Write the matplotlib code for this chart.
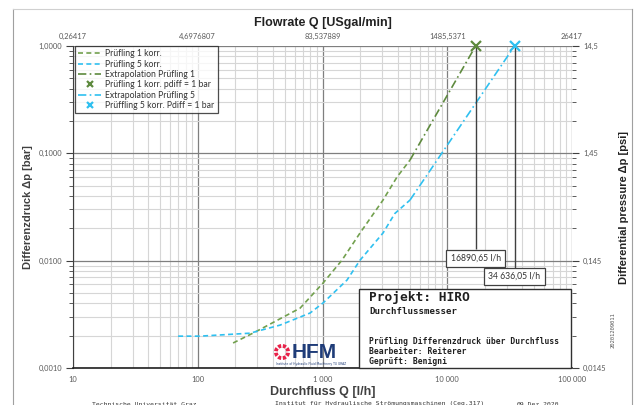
import numpy as np
import matplotlib
matplotlib.use("Agg")
import matplotlib.pyplot as plt
from matplotlib.patches import Rectangle, Wedge
from matplotlib.transforms import IdentityTransform
from matplotlib.ticker import FixedLocator, NullFormatter

q_p1 = [192, 288, 519, 661, 1009, 1432, 1999, 3055, 3955, 5030]
dp_p1 = [0.00171, 0.00216, 0.00311, 0.00361, 0.00618, 0.0101, 0.0181, 0.0367, 0.0601, 0.0866]
q_p5 = [69.6, 104, 262, 457, 794, 1009, 1571, 1999, 3055, 3800, 5030]
dp_p5 = [0.00198, 0.00198, 0.00211, 0.00251, 0.00325, 0.00403, 0.00659, 0.0101, 0.0181, 0.0275, 0.0367]
# Extrapolations to pdiff = 1 bar
q_ext1 = [5030, 16890.65]
dp_ext1 = [0.0866, 1.0]
q_ext5 = [5030, 34636.05]
dp_ext5 = [0.0367, 1.0]
q_1bar = [16890.65, 34636.05]
q_1bar_labels = ["16890,65 l/h", "34 636,05 l/h"]

x_ticks = [10, 100, 1000, 10000, 100000]
x_labels = ["10", "100", "1 000", "10 000", "100 000"]
top_labels = ["0,26417", "4,6976807", "83,537889", "1485,5371", "26417"]
y_ticks = [0.001, 0.01, 0.1, 1.0]
y_labels = ["0,0010", "0,0100", "0,1000", "1,0000"]
psi_labels = ["0,0145", "0,145", "1,45", "14,5"]

green = "#72A04E"
green_dk = "#5E8A3E"
blue = "#2FC0F0"
tick_col = "#595959"
tick_font = "Lato"
tick_size = 5.4
mono = "DejaVu Sans Mono"
W, H = 636, 405

fig = plt.figure(figsize=(W / 100, H / 100), dpi=100)
ax = fig.add_axes((73 / W, 1 - 368 / H, 499 / W, 322 / H))
ax.set_xscale("log")
ax.set_yscale("log")
ax.set_xlim(10, 100000)
ax.set_ylim(0.001, 1.0)

# grid
ax.grid(which="minor", color="#D6D6D6", lw=0.8)
ax.grid(which="major", color="#7F7F7F", lw=0.9)
ax.set_axisbelow(True)

ax.plot(q_p1, dp_p1, ls=(0, (3, 2)), color=green, lw=1.2, label="Prüfling 1 korr.")
ax.plot(q_p5, dp_p5, ls=(0, (3, 2)), color=blue, lw=1.2, label="Prüfling 5 korr.")
ax.plot(q_ext1, dp_ext1, ls=(0, (5, 2, 1, 2)), color=green_dk, lw=1.2, label="Extrapolation Prüfling 1")
ax.plot([q_1bar[0]], [1.0], "x", color=green_dk, ms=7, mew=1.6, label="Prüfling 1 korr. pdiff = 1 bar",
        clip_on=False, zorder=5)
ax.plot(q_ext5, dp_ext5, ls=(0, (5, 2, 1, 2)), color=blue, lw=1.2, label="Extrapolation Prüfling 5")
ax.plot([q_1bar[1]], [1.0], "x", color=blue, ms=7, mew=1.6, label="Prüffling 5 korr. Pdiff = 1 bar",
        clip_on=False, zorder=5)

# drop lines and value boxes
ax.vlines(q_1bar[0], 0.0128, 1.0, color="#404040", lw=1.0)
ax.vlines(q_1bar[1], 0.0084, 1.0, color="#404040", lw=1.0)
box = dict(boxstyle="square,pad=0.5", fc="white", ec="#404040", lw=0.9)
ax.text(q_1bar[0], 0.0105, q_1bar_labels[0], ha="center", va="center", fontsize=6.2,
        family=tick_font, color="#333333", bbox=box)
ax.text(q_1bar[1], 0.0071, q_1bar_labels[1], ha="center", va="center", fontsize=6.2,
        family=tick_font, color="#333333", bbox=box)

ax.xaxis.set_major_locator(FixedLocator(x_ticks))
ax.set_xticklabels(x_labels, fontsize=tick_size, color=tick_col, family=tick_font)
ax.yaxis.set_major_locator(FixedLocator(y_ticks))
ax.set_yticklabels(y_labels, fontsize=tick_size, color=tick_col, family=tick_font)
ax.xaxis.set_minor_formatter(NullFormatter())
ax.yaxis.set_minor_formatter(NullFormatter())
ax.tick_params(which="both", color="#404040", direction="out")
ax.tick_params(axis="x", which="both", length=0, pad=6)
ax.tick_params(axis="y", which="major", length=5, pad=3)
ax.tick_params(axis="y", which="minor", length=3)
for s in ["top", "right"]:
    ax.spines[s].set_visible(False)
ax.spines["left"].set_color("#404040")
ax.spines["bottom"].set_color("#202020")
ax.spines["bottom"].set_linewidth(1.2)
ax.set_xlabel("Durchfluss Q [l/h]", fontsize=9, fontweight="bold", family="Liberation Sans",
              color="#404040", labelpad=2)
ax.set_ylabel("Differenzdruck Δp [bar]", fontsize=8, fontweight="bold", family="Liberation Sans",
              color="#404040", labelpad=4)

# top axis (USgal/min)
axt = ax.twiny()
axt.set_xscale("log")
axt.set_xlim(ax.get_xlim())
axt.xaxis.set_major_locator(FixedLocator(x_ticks))
axt.set_xticklabels(top_labels, fontsize=tick_size, color=tick_col, family=tick_font)
axt.xaxis.set_minor_locator(FixedLocator([]))
axt.tick_params(length=0, pad=4)
axt.set_xlabel("Flowrate Q [USgal/min]", fontsize=9, fontweight="bold", family="Liberation Sans",
               color="#222222", labelpad=5)
for s in axt.spines.values():
    s.set_visible(False)

# right axis (psi)
axr = ax.twinx()
axr.set_yscale("log")
axr.set_ylim(ax.get_ylim())
axr.yaxis.set_major_locator(FixedLocator(y_ticks))
axr.set_yticklabels(psi_labels, fontsize=tick_size, color=tick_col, family=tick_font)
axr.yaxis.set_minor_formatter(NullFormatter())
axr.tick_params(which="major", length=5, color="#404040", pad=3)
axr.tick_params(which="minor", length=3, color="#404040")
for s in axr.spines.values():
    s.set_visible(False)
axr.set_ylabel("Differential pressure Δp [psi]", fontsize=8, fontweight="bold",
               family="Liberation Sans", color="#222222", labelpad=9)

leg = ax.legend(loc="upper left", bbox_to_anchor=(0.004, 1.0), prop={"family": tick_font, "size": 6.2},
                frameon=True, fancybox=False, edgecolor="#202020", borderaxespad=0, markerscale=0.7,
                handlelength=2.6, handletextpad=0.5, labelspacing=0.15, borderpad=0.4)
leg.get_frame().set_linewidth(0.9)
for t in leg.get_texts():
    t.set_color("#333333")

# project box
fig.patches.append(Rectangle((359 / W, 1 - 368 / H), 212 / W, 79 / H, transform=fig.transFigure,
                             fc="white", ec="#303030", lw=1.0, zorder=10))
fig.text(369 / W, 1 - 298 / H, "Projekt: HIRO", fontsize=9.3, fontweight="bold", family=mono,
         va="center", zorder=11, color="#202020")
fig.text(369 / W, 1 - 311 / H, "Durchflussmesser", fontsize=6.6, fontweight="bold", family=mono,
         va="center", zorder=11, color="#202020")
fig.text(369 / W, 1 - 342 / H, "Prüfling Differenzdruck über Durchfluss", fontsize=5.8, fontweight="bold",
         family=mono, va="center", zorder=11, color="#202020")
fig.text(369 / W, 1 - 352 / H, "Bearbeiter: Reiterer", fontsize=5.8, fontweight="bold", family=mono,
         va="center", zorder=11, color="#202020")
fig.text(369 / W, 1 - 362 / H, "Geprüft: Benigni", fontsize=5.8, fontweight="bold", family=mono,
         va="center", zorder=11, color="#202020")

# HFM logo (ring drawn in pixel space so it stays round)
for k in range(8):
    a = k * 45 + 22.5
    fig.patches.append(Wedge((282, H - 352), 8, a - 15, a + 15, width=3.8, transform=IdentityTransform(),
                             fc="#E8234A", ec="none", zorder=9))
fig.text(292 / W, 1 - 352 / H, "HFM", fontsize=15, fontweight="bold", family="Liberation Sans",
         color="#1F3C78", va="center", zorder=9)
fig.text(276 / W, 1 - 364 / H, "Institute of Hydraulic Fluid Machinery TU GRAZ", fontsize=2.2,
         color="#1F3C78", va="center", zorder=9)

# side id and footer
fig.text(613 / W, 1 - 330 / H, "20201209011", rotation=90, fontsize=4, family=mono,
         color="#555555", ha="center", va="center")
fig.text(92 / W, 1 - 404 / H, "Technische Universität Graz", fontsize=4.6, family=mono,
         color="#333333", va="center")
fig.text(275 / W, 1 - 404 / H, "Institut für Hydraulische Strömungsmaschinen (Ceg.317)", fontsize=4.6,
         family=mono, color="#333333", va="center")
fig.text(517 / W, 1 - 404 / H, "09.Dez.2020", fontsize=4.6, family=mono, color="#333333", va="center")

# outer frame
fig.lines.append(plt.Line2D([13 / W, 13 / W], [0, 1 - 9 / H], transform=fig.transFigure,
                            color="#A0A0A0", lw=0.8))
fig.lines.append(plt.Line2D([13 / W, 632 / W], [1 - 9 / H, 1 - 9 / H], transform=fig.transFigure,
                            color="#D0D0D0", lw=0.8))
fig.lines.append(plt.Line2D([632 / W, 632 / W], [0, 1 - 9 / H], transform=fig.transFigure,
                            color="#A0A0A0", lw=0.8))

fig.savefig("out.png", dpi=100)
